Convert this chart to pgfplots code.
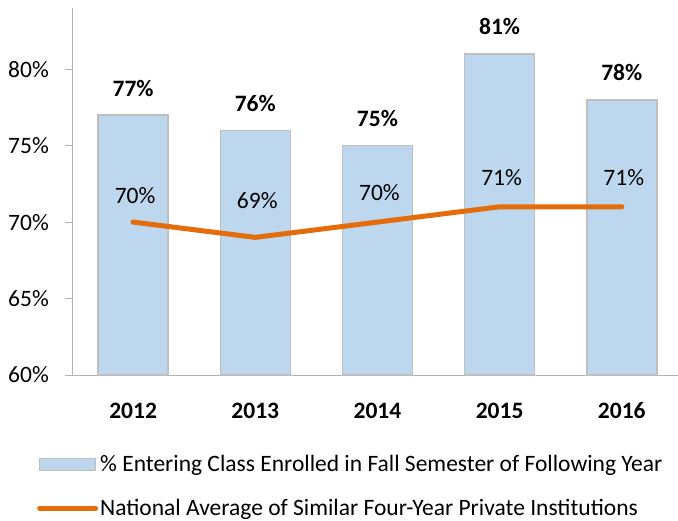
\documentclass[border=0pt]{standalone}
\usepackage{fontspec}
\setmainfont{Carlito}
\usepackage{pgfplots}
\usepackage{pgfplotstable}
\pgfplotsset{compat=1.18}
\definecolor{barfill}{HTML}{BDD7EE}
\definecolor{barline}{HTML}{BFBFBF}
\definecolor{lineor}{HTML}{E46C0A}
\definecolor{axgray}{HTML}{B3B3B3}
\newcommand{\chf}{\fontsize{23.5}{28}\selectfont}
\pgfplotstableread{
x y dy
0 77 27
1 76 27
2 75 27
3 81 27
4 78 27
}\bars
\pgfplotstableread{
x y dy
0 70 27
1 69 37
2 70 30
3 71 29
4 71 29
}\natl
\begin{document}
\begin{tikzpicture}
\begin{axis}[
  at={(72pt,145pt)}, anchor=south west,
  scale only axis, width=606pt, height=367pt,
  xmin=-0.5, xmax=4.46, ymin=60, ymax=84,
  clip=false,
  axis x line*=bottom, axis y line*=left,
  axis line style={draw=axgray, line width=1pt, -},
  /pgf/number format/assume math mode=true,
  ytick={60,65,70,75,80},
  yticklabels={60\%,65\%,70\%,75\%,80\%},
  tick align=outside, major tick length=7pt,
  ytick style={draw=axgray, line width=1pt},
  xtick={0,1,2,3,4},
  xticklabels={2012,2013,2014,2015,2016},
  xtick style={draw=none},
  yticklabel style={font=\chf, anchor=east, inner sep=0pt, xshift=-16pt},
  xticklabel style={font=\chf\bfseries, anchor=base, inner sep=0pt, yshift=-36pt},
  legend style={at={(-0.0578,-0.213)}, anchor=north west, draw=none, fill=none,
    font=\chf, inner sep=0pt, row sep=22pt, nodes={inner sep=2pt}},
  legend cell align=left,
]
\addplot[ybar, bar width=70pt, bar shift=0pt, fill=barfill, draw=barline, line width=1.5pt,
  point meta=explicit,
  nodes near coords={\pgfmathprintnumber{\pgfplotspointmeta}\%},
  visualization depends on={\thisrow{dy}\as\dy},
  every node near coord/.append style={anchor=center, yshift=\dy pt, font=\chf\bfseries, black},
  legend image code/.code={\draw[fill=barfill,draw=barline,line width=1pt] (0pt,-6pt) rectangle (56pt,6pt);}
] table[x=x, y=y, meta=y] {\bars};
\addlegendentry{\% Entering Class Enrolled in Fall Semester of Following Year}
\addplot[lineor, line width=5pt, line cap=round, line join=round, mark=none,
  point meta=explicit,
  nodes near coords={\pgfmathprintnumber{\pgfplotspointmeta}\%},
  visualization depends on={\thisrow{dy}\as\dy},
  every node near coord/.append style={anchor=center, yshift=\dy pt, xshift=2pt, font=\chf, black},
  legend image code/.code={\draw[lineor, line width=5pt] (0pt,0pt) -- (56pt,0pt);}
] table[x=x, y=y, meta=y] {\natl};
\addlegendentry{National Average of Similar Four-Year Private Institutions}
\end{axis}
\pgfresetboundingbox
\useasboundingbox (0,0) rectangle (678pt,520pt);
\end{tikzpicture}
\end{document}
